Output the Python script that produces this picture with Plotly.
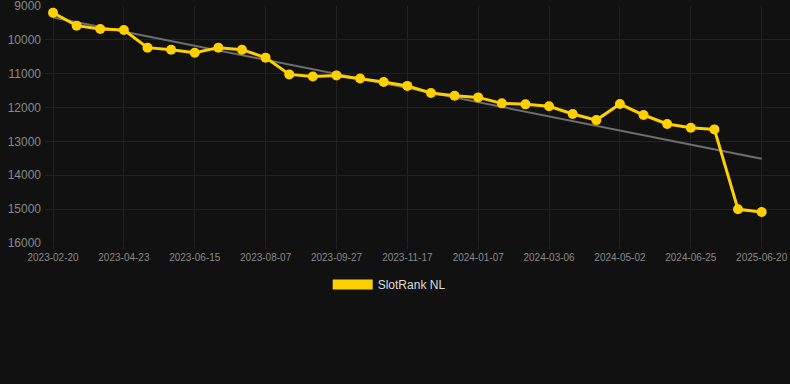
import numpy as np
import plotly.graph_objects as go

dates = [
    "2023-02-20", "2023-03-13", "2023-04-02", "2023-04-23", "2023-05-11", "2023-05-28",
    "2023-06-15", "2023-07-03", "2023-07-20", "2023-08-07", "2023-08-24", "2023-09-10",
    "2023-09-27", "2023-10-14", "2023-10-31", "2023-11-17", "2023-12-04", "2023-12-21",
    "2024-01-07", "2024-01-26", "2024-02-15", "2024-03-06", "2024-03-25", "2024-04-13",
    "2024-05-02", "2024-05-20", "2024-06-07", "2024-06-25", "2024-07-15", "2025-06-01",
    "2025-06-20",
]
ranks = [
    9200, 9580, 9680, 9710, 10230, 10290, 10380, 10230, 10290, 10525,
    11020, 11080, 11050, 11140, 11245, 11360, 11570, 11650, 11700, 11875,
    11905, 11960, 12190, 12370, 11895, 12220, 12485, 12595, 12645, 15005,
    15085,
]
tick_dates = dates[::3]
y_ticks = [9000, 10000, 11000, 12000, 13000, 14000, 15000, 16000]
series_name = "SlotRank NL"

idx = np.arange(len(ranks))
slope, intercept = np.polyfit(idx, ranks, 1)
trend = slope * idx + intercept

YELLOW = "#FFD000"

fig = go.Figure()
fig.add_trace(go.Scatter(
    x=dates, y=trend, mode="lines",
    line=dict(color="#6e6e6e", width=2),
    showlegend=False, hoverinfo="skip",
))
fig.add_trace(go.Scatter(
    x=dates, y=ranks, mode="lines+markers",
    line=dict(color=YELLOW, width=3),
    marker=dict(color=YELLOW, size=10),
    showlegend=False, name=series_name,
))
fig.add_trace(go.Scatter(
    x=[dates[0]], y=[None], mode="lines",
    line=dict(color=YELLOW, width=12),
    name=series_name, showlegend=True,
))

fig.update_layout(
    width=790, height=384,
    paper_bgcolor="#111111", plot_bgcolor="#111111",
    margin=dict(l=45, r=0, t=6, b=141),
    font=dict(family="Liberation Sans, Arial, sans-serif", color="#999999"),
    legend=dict(
        orientation="h", x=0.462, xanchor="center", y=-0.114, yanchor="top",
        font=dict(size=12, color="#dddddd"), itemwidth=40,
        bgcolor="rgba(0,0,0,0)",
    ),
    xaxis=dict(
        type="category", range=[-0.34, 31.2],
        tickvals=tick_dates, ticktext=tick_dates,
        tickfont=dict(size=10, color="#888888"),
        showgrid=True, gridcolor="#222222", gridwidth=1,
        zeroline=False, showline=False,
        ticks="outside", ticklen=5, tickcolor="#222222",
        ticklabeloverflow="allow",
    ),
    yaxis=dict(
        range=[16000, 9000], tickvals=y_ticks, tickformat="d",
        tickfont=dict(size=12, color="#888888"),
        showgrid=True, gridcolor="#222222", gridwidth=1,
        zeroline=False, showline=False, ticklabelstandoff=3,
        ticklabeloverflow="allow",
    ),
)

fig.write_html(
    "out.html",
    config={"displayModeBar": False},
    post_script="document.body.style.margin='0';document.body.style.background='#111111';",
)
